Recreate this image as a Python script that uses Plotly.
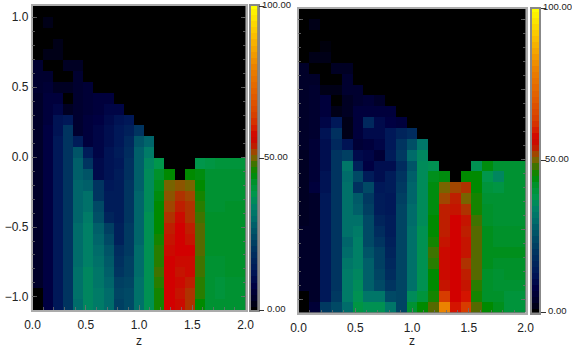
import numpy as np
import plotly.graph_objects as go

W, H = 572, 348

# one row per z-bin line, top of the panel first
left_rows = [
    [0]*21,
    [0,2]+[0]*19,
    [0]*21,
    [0,0,2]+[0]*18,
    [0,2,2]+[0]*18,
    [5,0,0,3,3]+[0]*16,
    [5,5,0,0,5]+[0]*16,
    [5,6,3,3,5,6]+[0]*15,
    [4,7,7,0,5,6,7,7]+[0]*13,
    [4,7,9,3,5,6,7,9,9]+[0]*12,
    [4,7,12,13,5,7,8,10,12,13]+[0]*11,
    [4,8,12,20,5,7,9,11,13,15,20]+[0]*10,
    [4,8,13,20,14,7,9,11,13,17,26,29]+[0]*9,
    [4,8,13,20,26,14,9,12,14,18,28,33]+[0]*9,
    [4,8,13,20,28,20,10,12,13,19,28,35,38,0,0,0,38,39,40,40,40],
    [4,8,13,20,28,26,10,12,14,19,28,36,42,45,0,45,44,41,41,41,41],
    [4,8,13,20,29,28,20,13,14,20,28,36,43,50,51,50,45,41,41,41,41],
    [4,8,13,20,29,31,20,14,14,20,29,36,44,51,53,52,46,41,41,41,41],
    [4,8,13,20,29,31,24,14,14,20,29,36,45,52,54,53,47,41,41,42,42],
    [4,8,13,20,29,33,25,16,14,20,29,37,45,53,56,53,48,42,42,42,42],
    [4,8,13,20,30,34,28,22,15,21,29,37,45,54,57,54,49,42,42,42,42],
    [4,8,13,20,30,34,29,24,15,21,29,37,46,55,57,55,49,42,42,42,42],
    [4,8,13,20,30,34,30,26,18,21,30,37,47,56,57,57,49,42,42,42,42],
    [4,8,13,20,30,34,31,27,19,22,30,37,47,57,56,56,48,41,41,42,42],
    [4,8,13,20,31,35,32,28,20,22,30,37,48,57,55,56,48,41,41,42,42],
    [4,8,13,20,31,35,32,29,22,23,31,37,47,57,56,54,47,41,40,41,41],
    [0,8,13,20,31,35,33,30,23,24,31,37,46,57,55,53,47,41,40,41,41],
    [0,8,13,20,30,35,33,30,22,24,31,37,46,57,56,53,45,41,41,41,41],
]

right_rows = [
    [0]*21,
    [0,2]+[0]*19,
    [0]*21,
    [0,0,1]+[0]*18,
    [0,2,2]+[0]*18,
    [4,0,0,3,3]+[0]*16,
    [4,4,0,0,5]+[0]*16,
    [4,5,2,2,5,5]+[0]*15,
    [4,5,7,0,3,5,6,4]+[0]*13,
    [4,5,7,2,3,7,7,7,7]+[0]*12,
    [4,5,9,13,2,7,17,10,8,7]+[0]*11,
    [4,5,12,19,2,7,10,10,13,16,18]+[0]*10,
    [4,6,11,17,12,6,7,9,13,20,25,32]+[0]*9,
    [3,6,11,20,22,10,9,6,14,21,30,35]+[0]*9,
    [3,6,11,20,32,15,8,11,11,18,26,36,37,0,0,0,37,44,41,41,41],
    [3,6,12,20,30,24,14,11,14,20,28,36,43,44,0,45,45,38,35,41,41],
    [3,7,12,20,31,19,24,13,14,21,29,36,44,50,52,53,45,40,39,41,41],
    [3,4,13,20,31,27,21,14,13,22,29,36,44,52,54,50,46,41,41,41,41],
    [3,4,13,20,31,28,22,14,13,23,30,36,44,54,55,53,46,42,41,41,41],
    [3,4,13,20,31,31,24,16,14,23,30,36,45,54,57,55,48,42,41,41,41],
    [4,4,13,20,31,33,24,18,14,23,31,37,45,54,57,54,49,43,42,42,42],
    [4,4,13,20,29,34,24,20,15,23,31,37,46,55,57,55,49,43,42,42,42],
    [4,4,13,20,30,34,26,22,16,23,31,37,48,56,57,55,49,43,43,43,43],
    [4,4,13,20,32,34,28,22,17,23,31,37,47,56,57,53,49,43,42,42,42],
    [4,4,13,20,33,35,28,23,18,23,31,37,45,56,57,54,49,42,41,42,42],
    [4,4,13,20,33,36,28,24,20,23,31,37,45,55,57,55,47,42,41,41,41],
    [0,4,13,21,33,37,32,32,24,23,36,40,46,63,57,59,46,42,42,40,40],
    [0,6,21,24,30,39,37,37,32,23,41,45,49,80,59,63,49,45,43,40,40],
]

cbar_levels = list(range(0, 101, 2))
cbar_ticks = [0, 50, 100]
cbar_labels = ["0.00", "50.00", "100.00"]

# value -> colour
stops = [
    (0, "rgb(0,0,0)"), (3, "rgb(0,0,35)"), (8, "rgb(0,0,66)"), (13, "rgb(0,24,88)"),
    (20, "rgb(0,52,96)"), (28, "rgb(0,95,105)"), (30, "rgb(0,108,106)"), (34, "rgb(0,128,102)"),
    (38, "rgb(0,150,75)"), (42, "rgb(0,145,42)"), (45, "rgb(0,138,0)"), (47, "rgb(40,125,0)"),
    (49, "rgb(85,105,0)"), (50, "rgb(120,100,0)"), (52, "rgb(160,70,0)"), (54, "rgb(190,30,0)"),
    (57, "rgb(210,0,0)"), (63, "rgb(215,60,0)"), (70, "rgb(225,90,0)"), (80, "rgb(235,130,0)"),
    (90, "rgb(250,190,0)"), (100, "rgb(255,255,0)"),
]
colorscale = [[v / 100, c] for v, c in stops]

z_centers = (np.arange(21) + 0.5) * 2 / 21
y_bottom, y_top = -1.093, 1.079
y_centers = y_bottom + (np.arange(28) + 0.5) * (y_top - y_bottom) / 28

frame = "#ababab"
tick_col = "rgba(110,110,110,0.8)"
text_col = "#222222"
font = "Liberation Sans"


def px_x(a, b):
    return [a / W, b / W]


def px_y(top, bottom):
    return [1 - bottom / H, 1 - top / H]


fig = go.Figure()

for rows, xa, ya in [(left_rows, "x", "y"), (right_rows, "x2", "y2")]:
    fig.add_trace(go.Heatmap(
        x=z_centers, y=y_centers, z=rows[::-1],
        zmin=0, zmax=100, colorscale=colorscale, showscale=False,
        xaxis=xa, yaxis=ya,
    ))

for xa, ya in [("x3", "y3"), ("x4", "y4")]:
    fig.add_trace(go.Heatmap(
        x=[0], y=cbar_levels, z=[[v] for v in cbar_levels],
        zmin=0, zmax=100, colorscale=colorscale, showscale=False,
        xaxis=xa, yaxis=ya,
    ))

panel_x = dict(
    range=[0, 2], tickvals=[0, 0.5, 1, 1.5, 2], ticktext=["0.0", "0.5", "1.0", "1.5", "2.0"],
    ticks="inside", ticklen=5, tickcolor=tick_col, tickwidth=1, automargin=False,
    minor=dict(dtick=0.1, ticks="inside", ticklen=3, tickcolor=tick_col),
    showline=True, linecolor=frame, linewidth=1.5, mirror=True, showgrid=False, zeroline=False,
    tickfont=dict(size=12, color=text_col, family=font), ticklabelstandoff=3,
    title=dict(text="z", font=dict(size=12, color=text_col, family=font), standoff=9),
)
panel_y = dict(
    range=[y_bottom, y_top], tickvals=[-1, -0.5, 0, 0.5, 1],
    ticks="inside", ticklen=5, tickcolor=tick_col, tickwidth=1, automargin=False,
    minor=dict(dtick=0.1, ticks="inside", ticklen=3, tickcolor=tick_col),
    showline=True, linecolor=frame, linewidth=1.5, mirror="ticks", showgrid=False, zeroline=False,
    tickformat=".1f", tickfont=dict(size=12, color=text_col, family=font),
)
bar_x = dict(showticklabels=False, ticks="", showline=True, linecolor="#888", linewidth=1.5,
             mirror=True, showgrid=False, zeroline=False, range=[-0.5, 0.5], automargin=False)
bar_y = dict(range=[0, 100], showticklabels=False, tickvals=cbar_ticks, side="right", ticks="outside",
             ticklen=5, tickcolor="#333", tickwidth=1, showline=True, linecolor="#888", linewidth=1.5,
             mirror=True, showgrid=False, zeroline=False, automargin=False)

fig.update_layout(
    width=W, height=H, autosize=False,
    margin=dict(l=0, r=0, t=0, b=0),
    paper_bgcolor="white", plot_bgcolor="black", showlegend=False,
    xaxis=dict(panel_x, domain=px_x(32.5, 245.5), anchor="y"),
    yaxis=dict(panel_y, domain=px_y(6, 310), anchor="x"),
    xaxis2=dict(panel_x, domain=px_x(298.5, 525.5), anchor="y2"),
    yaxis2=dict(panel_y, domain=px_y(8.5, 312.5), anchor="x2", showticklabels=False),
    xaxis3=dict(bar_x, domain=px_x(250.5, 257.5), anchor="y3"),
    yaxis3=dict(bar_y, domain=px_y(6, 310), anchor="x3"),
    xaxis4=dict(bar_x, domain=px_x(532, 539), anchor="y4"),
    yaxis4=dict(bar_y, domain=px_y(8.5, 312.5), anchor="x4"),
)

# colour bar labels sit centred beside the bar, a little above the tick
for ya, cx in [("y3", 276), ("y4", 557)]:
    for v, label in zip(cbar_ticks, cbar_labels):
        fig.add_annotation(
            x=cx / W, xref="paper", y=v, yref=ya, yshift=2, text=label, showarrow=False,
            xanchor="center", yanchor="middle", font=dict(size=9.5, color=text_col, family=font),
        )

fig.write_html("out.html", config=dict(displayModeBar=False),
               post_script="document.body.style.margin='0';")
